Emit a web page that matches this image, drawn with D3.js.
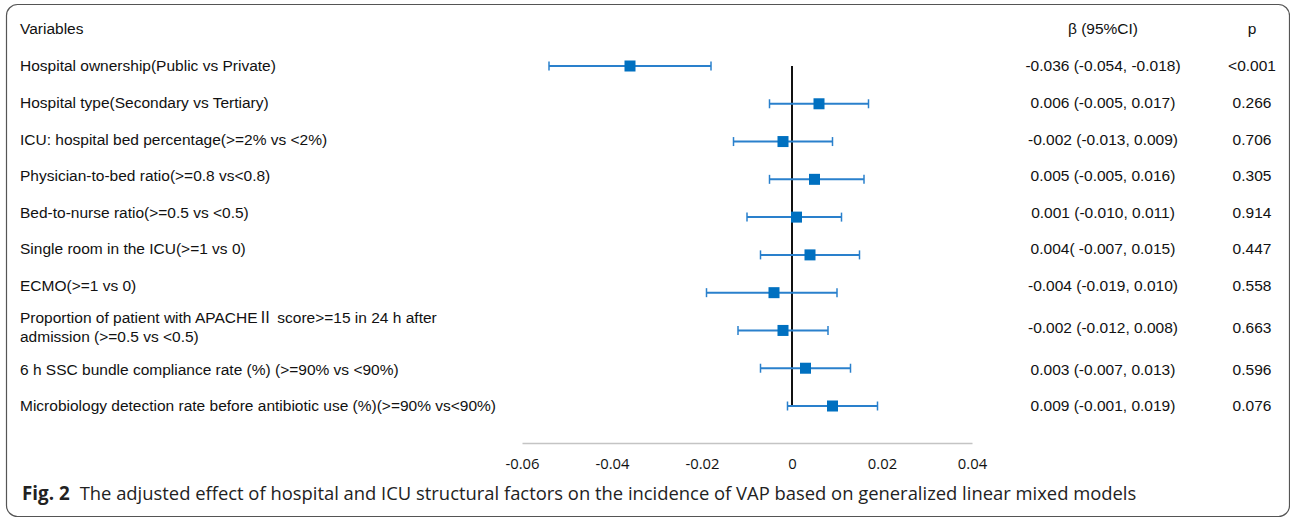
<!DOCTYPE html>
<html><head><meta charset="utf-8">
<script src="https://cdn.jsdelivr.net/npm/d3@7"></script>
<style>
body{margin:0;background:#fff;}
svg{display:block;}
</style></head>
<body>
<svg id="chart" width="1290" height="518"></svg>
<script>
const variables = [
  ["Hospital ownership(Public vs Private)"],
  ["Hospital type(Secondary vs Tertiary)"],
  ["ICU: hospital bed percentage(>=2% vs <2%)"],
  ["Physician-to-bed ratio(>=0.8 vs<0.8)"],
  ["Bed-to-nurse ratio(>=0.5 vs <0.5)"],
  ["Single room in the ICU(>=1 vs 0)"],
  ["ECMO(>=1 vs 0)"],
  ["Proportion of patient with APACHE\u2161 score>=15 in 24 h after", "admission (>=0.5 vs <0.5)"],
  ["6 h SSC bundle compliance rate (%) (>=90% vs <90%)"],
  ["Microbiology detection rate before antibiotic use (%)(>=90% vs<90%)"]
];
const beta  = [-0.036, 0.006, -0.002, 0.005, 0.001, 0.004, -0.004, -0.002, 0.003, 0.009];
const lower = [-0.054, -0.005, -0.013, -0.005, -0.010, -0.007, -0.019, -0.012, -0.007, -0.001];
const upper = [-0.018, 0.017, 0.009, 0.016, 0.011, 0.015, 0.010, 0.008, 0.013, 0.019];
const ciText = [
  "-0.036 (-0.054, -0.018)", "0.006 (-0.005, 0.017)", "-0.002 (-0.013, 0.009)",
  "0.005 (-0.005, 0.016)", "0.001 (-0.010, 0.011)", "0.004( -0.007, 0.015)",
  "-0.004 (-0.019, 0.010)", "-0.002 (-0.012, 0.008)", "0.003 (-0.007, 0.013)",
  "0.009 (-0.001, 0.019)"
];
const pText = ["<0.001", "0.266", "0.706", "0.305", "0.914", "0.447", "0.558", "0.663", "0.596", "0.076"];
const xTicks = [-0.06, -0.04, -0.02, 0, 0.02, 0.04];
const headers = ["Variables", "\u03b2 (95%CI)", "p"];
const captionBold = "Fig. 2";
const captionText = "The adjusted effect of hospital and ICU structural factors on the incidence of VAP based on generalized linear mixed models";

const svg = d3.select("#chart");

// frame
svg.append("rect").attr("x", 6.5).attr("y", 4.5).attr("width", 1283).attr("height", 512)
  .attr("rx", 11).attr("ry", 11).attr("fill", "none").attr("stroke", "#555").attr("stroke-width", 1.2);

const x = d3.scaleLinear().domain([-0.06, 0.04]).range([522, 972]);
const idx = d3.range(variables.length);
const yPlot = d3.scalePoint().domain(idx).range([66, 406]);

// table row centres: rows with two lines are taller
const baseH = 36.6, lineH = 10.4;
const rowH = variables.map(v => baseH + (v.length - 1) * lineH);
const yText = [];
let acc = 66;
idx.forEach(i => {
  if (i > 0) acc += (rowH[i - 1] + rowH[i]) / 2;
  yText.push(acc);
});

const tf = "'Liberation Sans', Arial, 'Noto Sans CJK SC', sans-serif";
const fs = 15.5;
// header
svg.append("text").attr("x", 20).attr("y", 29).attr("dy", "0.35em").attr("font-family", tf)
  .attr("font-size", fs).attr("fill", "#111").text(headers[0]);
svg.append("text").attr("x", 1103).attr("y", 29).attr("dy", "0.35em").attr("text-anchor", "middle")
  .attr("font-family", tf).attr("font-size", fs).attr("fill", "#111").text(headers[1]);
svg.append("text").attr("x", 1252).attr("y", 29).attr("dy", "0.35em").attr("text-anchor", "middle")
  .attr("font-family", tf).attr("font-size", fs).attr("fill", "#111").text(headers[2]);

// labels
const lab = svg.append("g").attr("font-family", tf).attr("font-size", fs).attr("fill", "#111");
idx.forEach(i => {
  const lines = variables[i];
  const n = lines.length;
  lines.forEach((l, k) => {
    lab.append("text").attr("x", 20).attr("y", yText[i] + (k - (n - 1) / 2) * 19)
      .attr("dy", "0.35em").text(l);
  });
  lab.append("text").attr("x", 1103).attr("y", yText[i]).attr("dy", "0.35em")
    .attr("text-anchor", "middle").text(ciText[i]);
  lab.append("text").attr("x", 1252).attr("y", yText[i]).attr("dy", "0.35em")
    .attr("text-anchor", "middle").text(pText[i]);
});

// x axis
const axisY = 443;
const axis = svg.append("g").attr("transform", `translate(0,${axisY})`)
  .call(d3.axisBottom(x).tickValues(xTicks).tickSize(0).tickPadding(15)
    .tickFormat(d => d === 0 ? "0" : d3.format(".2f")(d).replace("\u2212", "-")));
axis.select(".domain").attr("stroke", "#c4c4c4").attr("stroke-width", 1.6);
axis.selectAll("text").attr("font-family", "'Open Sans', 'Noto Sans', sans-serif")
  .attr("font-size", 14.8).attr("fill", "#111");

// zero line
svg.append("line").attr("x1", x(0)).attr("x2", x(0)).attr("y1", yPlot(0)).attr("y2", yPlot(idx.length - 1))
  .attr("stroke", "#111").attr("stroke-width", 2);

// CI lines
const g = svg.append("g");
const ciColor = "#2a80cc";
g.selectAll("line.ci").data(idx).join("line").attr("class", "ci")
  .attr("x1", i => x(lower[i])).attr("x2", i => x(upper[i]))
  .attr("y1", i => yPlot(i)).attr("y2", i => yPlot(i))
  .attr("stroke", ciColor).attr("stroke-width", 2);
g.selectAll("line.capl").data(idx).join("line").attr("class", "capl")
  .attr("x1", i => x(lower[i])).attr("x2", i => x(lower[i]))
  .attr("y1", i => yPlot(i) - 4.5).attr("y2", i => yPlot(i) + 4.5)
  .attr("stroke", ciColor).attr("stroke-width", 1.5);
g.selectAll("line.capu").data(idx).join("line").attr("class", "capu")
  .attr("x1", i => x(upper[i])).attr("x2", i => x(upper[i]))
  .attr("y1", i => yPlot(i) - 4.5).attr("y2", i => yPlot(i) + 4.5)
  .attr("stroke", ciColor).attr("stroke-width", 1.5);
const ms = 11;
g.selectAll("rect.pt").data(idx).join("rect").attr("class", "pt")
  .attr("x", i => x(beta[i]) - ms / 2).attr("y", i => yPlot(i) - ms / 2)
  .attr("width", ms).attr("height", ms).attr("fill", "#0070c0");

// caption
const cap = svg.append("text").attr("x", 22).attr("y", 500)
  .attr("font-family", "'Open Sans', 'Noto Sans', sans-serif").attr("font-size", 18.4).attr("fill", "#222");
cap.append("tspan").attr("font-weight", "bold").attr("font-size", 18.8).text(captionBold);
cap.append("tspan").attr("dx", 10).text(captionText);
</script>
</body></html>
